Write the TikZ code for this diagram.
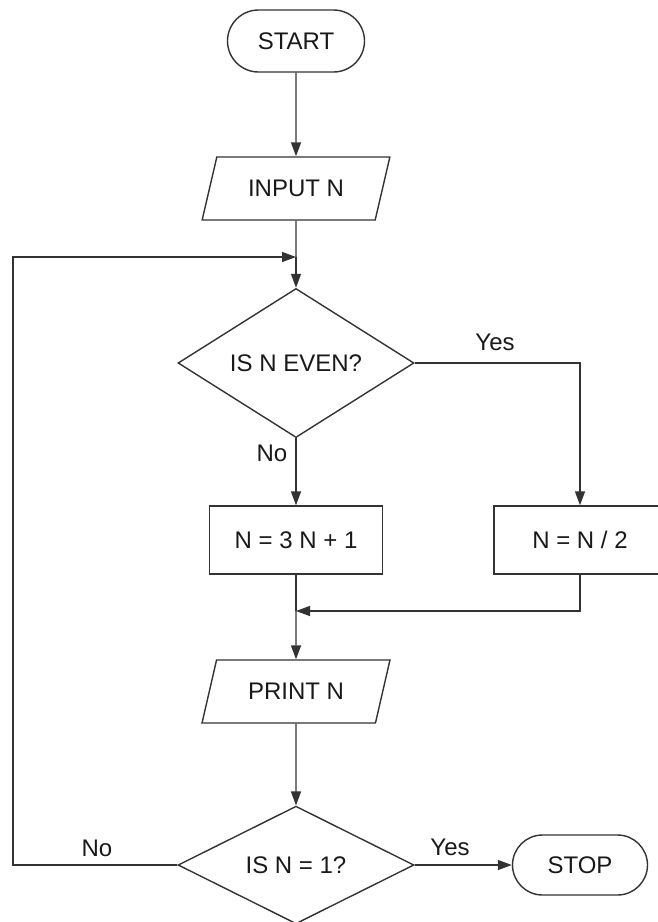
\documentclass[tikz,border=0pt]{standalone}
\usepackage{fontspec}
\setmainfont{Liberation Sans}
\usetikzlibrary{shapes.geometric,shapes.misc,arrows.meta}
\begin{document}
\begin{tikzpicture}[x=1pt,y=-1pt,
  every node/.style={font=\fontsize{24}{28}\selectfont, text=black!90},
  base/.style={draw=black!80, line width=1.4pt, inner sep=0pt},
  term/.style={base, rounded rectangle, minimum width=137pt, minimum height=62pt},
  io/.style={base, trapezium, trapezium left angle=62, trapezium right angle=118,
    trapezium stretches=true, minimum width=188pt, minimum height=63pt},
  proc/.style={base, rectangle, minimum width=173pt, minimum height=68pt},
  decision/.style={base, diamond, minimum width=236pt, minimum height=112pt},
  conn/.style={draw=black!80, line width=1.4pt},
  arr/.style={conn, -{Triangle[length=14pt,width=10pt]}},
  lbl/.style={inner sep=0pt}]
\useasboundingbox (0,0) rectangle (658,922);
\clip (0,0) rectangle (658,922);
\node[term] (start) at (296,41) {START};
\node[io] (input) at (296,188.5) {INPUT N};
\coordinate (j1) at (296,257);
\node[decision] (even) at (296,363) {IS N EVEN?};
\node[proc] (odd) at (296,540) {N = 3 N + 1};
\node[proc, minimum width=172pt] (half) at (580,540) {N = N / 2};
\coordinate (m) at (296,611);
\node[io] (print) at (296,691.5) {PRINT N};
\node[decision] (one) at (296,865) {IS N = 1?};
\node[term, minimum width=135pt, minimum height=60pt] (stop) at (580,865) {STOP};
\coordinate (loopb) at (13,865);
\coordinate (loopt) at (13,257);
\coordinate (yesc) at (580,363);
\coordinate (halfc) at (580,611);

\draw[arr] (start) -- (input);
\draw[conn] (input.south) -- (j1);
\draw[arr] (j1) -- (even.north);
\draw[arr] (even.south) -- (odd.north);
\draw[arr] (even.east) -- (yesc) -- (half.north);
\draw[conn] (odd.south) -- (m);
\draw[arr] (m) -- (print.north);
\draw[arr] (half.south) -- (halfc) -- (m);
\draw[arr] (print.south) -- (one.north);
\draw[arr] (one.east) -- (stop.west);
\draw[arr] (one.west) -- (loopb) -- (loopt) -- (j1);

\node[lbl] (yes1) at (495,342) {Yes};
\node[lbl] (no1) at (272,453) {No};
\node[lbl] (yes2) at (450,847) {Yes};
\node[lbl] (no2) at (97,848) {No};
\end{tikzpicture}
\end{document}
